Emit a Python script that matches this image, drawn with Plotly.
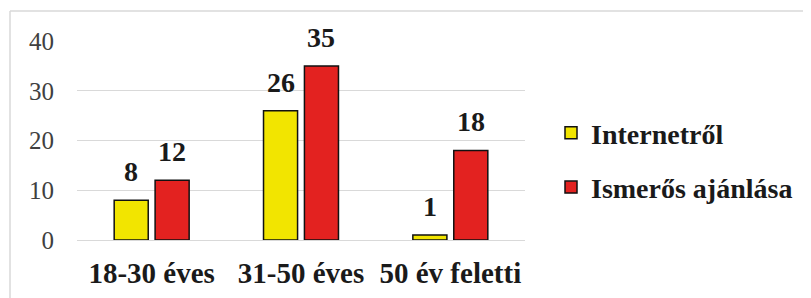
import plotly.graph_objects as go

categories = ["18-30 éves", "31-50 éves", "50 év feletti"]
internet = [8, 26, 1]
ismeros = [12, 35, 18]
series_names = ["Internetről", "Ismerős ajánlása"]
colors = ["#F2E500", "#E32220"]
y_ticks = [0, 10, 20, 30, 40]

PAGE = 8  # body margin of the page
W, H = 811 - PAGE, 298 - PAGE
SX0, SX1, SY0, SY1 = 77, 525, 41, 240
L = SX0 - PAGE
R = W - (SX1 - PAGE)
T = SY0 - PAGE
B = H - (SY1 - PAGE)
pw = SX1 - SX0
ph = SY1 - SY0

def px2x(p):
    return (p - SX0) / pw
def py2y(p):
    return (SY1 - p) / ph

SERIF = "'Times New Roman', 'Liberation Serif', Tinos, 'DejaVu Serif', serif"

fig = go.Figure()
offsets = [-0.251, 0.023]
bw = 0.228
for name, vals, col, off in zip(series_names, [internet, ismeros], colors, offsets):
    fig.add_trace(go.Bar(
        x=categories, y=vals, name=f"<b>{name}</b>",
        marker=dict(color=col, line=dict(color="#111111", width=1.5)),
        width=bw, offset=off,
        legendgroup=name,
    ))
    for c, v in zip(categories, vals):
        xs = (off + bw / 2) * pw / 3
        fig.add_annotation(x=c, y=v, xref="x", yref="y", text=f"<b>{v}</b>",
                           showarrow=False, yanchor="bottom", xshift=xs, yshift=11,
                           font=dict(family=SERIF, size=28, color="#1a1a1a"))

fig.add_shape(type="line", xref="paper", yref="paper", x0=px2x(10), x1=px2x(815),
              y0=py2y(11), y1=py2y(11), line=dict(color="#D9D9D9", width=1.5))
fig.add_shape(type="line", xref="paper", yref="paper", x0=px2x(10), x1=px2x(10),
              y0=py2y(11), y1=py2y(305), line=dict(color="#D9D9D9", width=1.5))

fig.update_layout(
    width=W, height=H,
    margin=dict(l=L, r=R, t=T, b=B, autoexpand=False),
    plot_bgcolor="white", paper_bgcolor="white",
    font=dict(family=SERIF, color="#1a1a1a"),
    showlegend=True,
    legend=dict(x=px2x(551), y=py2y(160), xanchor="left", yanchor="middle",
                font=dict(family=SERIF, size=28, color="#1a1a1a"),
                tracegroupgap=15, itemwidth=30,
                bgcolor="rgba(0,0,0,0)"),
    bargap=0.5,
)
fig.update_xaxes(
    automargin=False,
    showgrid=False, showline=False, ticks="",
    tickfont=dict(family=SERIF, size=29, color="#1a1a1a"),
    tickprefix="<b>", ticksuffix="</b>",
    ticklabelstandoff=13,
)
fig.update_yaxes(
    automargin=False,
    range=[0, 40], tickvals=y_ticks,
    showgrid=True, gridcolor="#D9D9D9", gridwidth=1.2,
    zeroline=True, zerolinecolor="#D9D9D9", zerolinewidth=1.2,
    showline=False, ticks="",
    tickfont=dict(family=SERIF, size=25, color="#404040"),
    ticklabelstandoff=22,
)
fig.write_html("out.html")
